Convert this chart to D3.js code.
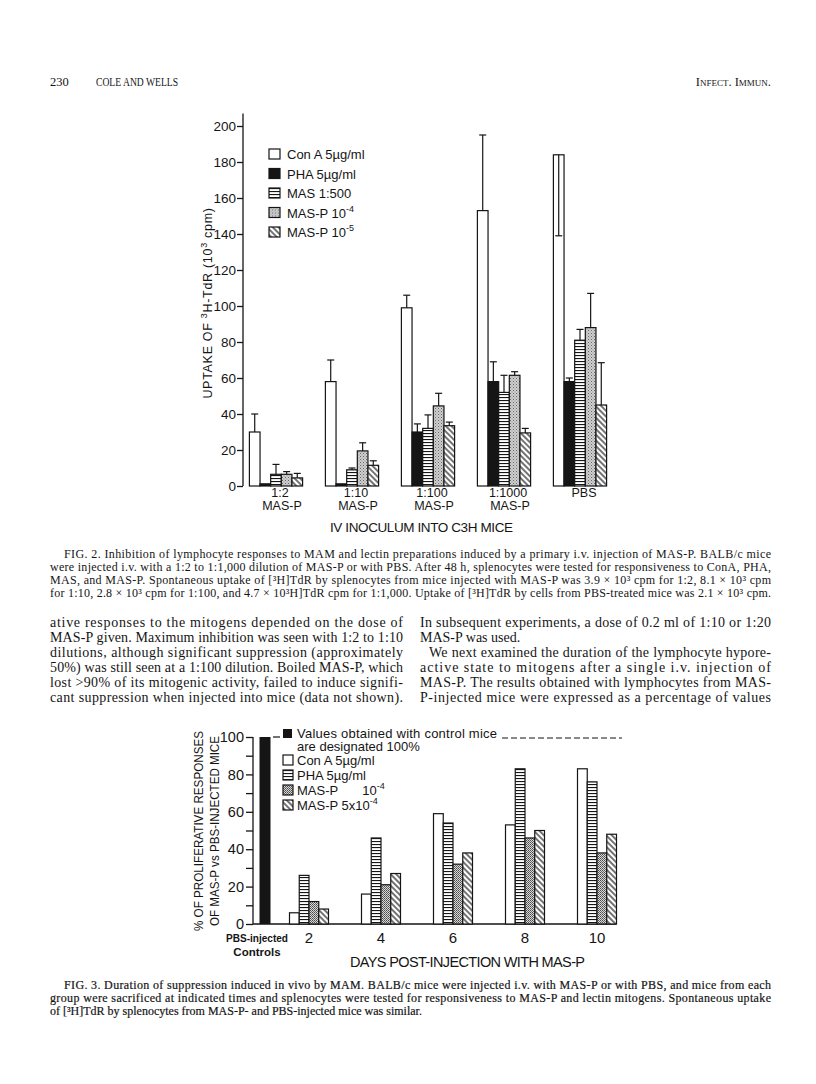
<!DOCTYPE html>
<html>
<head>
<meta charset="utf-8">
<script src="https://cdn.jsdelivr.net/npm/d3@7"></script>
<style>
  body { margin: 0; background: #fff; }
  svg { display: block; }
  .serif { font-family: "Liberation Serif", "DejaVu Serif", serif; fill: #151515; }
  .lab { font-family: "Liberation Sans", Arial, sans-serif; fill: #151515; }
  .narrow { font-family: "Liberation Sans Narrow", "Liberation Sans", Arial, sans-serif; fill: #151515; }
</style>
</head>
<body>
<div id="page"></div>
<script>
/* ---------- Fig. 2 data ---------- */
const fig2Groups = ["1:2", "1:10", "1:100", "1:1000", "PBS"]
const fig2GroupSub = ["MAS-P", "MAS-P", "MAS-P", "MAS-P", ""]
const fig2Series = ["Con A", "PHA", "MAS", "MAS-P 1e-4", "MAS-P 1e-5"]
const fig2LegendText = ["Con A 5µg/ml", "PHA  5µg/ml", "MAS  1:500", "MAS-P  10", "MAS-P  10"]
const fig2LegendSup = ["", "", "", "-4", "-5"]
const fig2ConA = [30, 58, 99, 153, 184]
const fig2ConAErr = [40, 70, 106, 195, 139]
const fig2PHA = [1.2, 1.2, 30, 58, 58]
const fig2PHAErr = [null, null, 34.5, 69, 60]
const fig2MAS = [6.5, 9, 32, 52, 81]
const fig2MASErr = [12, 10, 39.5, 61.5, 87]
const fig2MASP4 = [6.5, 19.5, 44.5, 61.5, 88]
const fig2MASP4Err = [8, 24, 51.5, 63.5, 107]
const fig2MASP5 = [4.5, 11.5, 33.5, 29.5, 45]
const fig2MASP5Err = [7, 14, 35.5, 32, 68.5]
const fig2Ticks = [0, 20, 40, 60, 80, 100, 120, 140, 160, 180, 200]

/* ---------- Fig. 3 data ---------- */
const fig3Days = [2, 4, 6, 8, 10]
const fig3Series = ["Con A", "PHA", "MAS-P 1e-4", "MAS-P 5e-4"]
const fig3LegendText = ["Con A 5µg/ml", "PHA 5µg/ml", "MAS-P", "MAS-P 5x10"]
const fig3LegendSup = ["", "", "-4", "-4"]
const fig3ConA = [6, 16, 59, 53, 83]
const fig3PHA = [26, 46, 54, 83, 76]
const fig3MASP4 = [12, 21, 32, 46, 38]
const fig3MASP5 = [8, 27, 38, 50, 48]
const fig3Control = 100
const fig3Ticks = [0, 10, 20, 30, 40, 50, 60, 70, 80, 90, 100]

/* ---------- page text ---------- */
const fig2Caption = [
  "FIG. 2. Inhibition of lymphocyte responses to MAM and lectin preparations induced by a primary i.v. injection of MAS-P. BALB/c mice",
  "were injected i.v. with a 1:2 to 1:1,000 dilution of MAS-P or with PBS. After 48 h, splenocytes were tested for responsiveness to ConA, PHA,",
  "MAS, and MAS-P. Spontaneous uptake of [³H]TdR by splenocytes from mice injected with MAS-P was 3.9 × 10³ cpm for 1:2, 8.1 × 10³ cpm",
  "for 1:10, 2.8 × 10³ cpm for 1:100, and 4.7 × 10³H]TdR cpm for 1:1,000. Uptake of [³H]TdR by cells from PBS-treated mice was 2.1 × 10³ cpm."
]
const bodyLeft = [
  "ative responses to the mitogens depended on the dose of",
  "MAS-P given. Maximum inhibition was seen with 1:2 to 1:10",
  "dilutions, although significant suppression (approximately",
  "50%) was still seen at a 1:100 dilution. Boiled MAS-P, which",
  "lost >90% of its mitogenic activity, failed to induce signifi-",
  "cant suppression when injected into mice (data not shown)."
]
const bodyRight = [
  "In subsequent experiments, a dose of 0.2 ml of 1:10 or 1:20",
  "MAS-P was used.",
  "We next examined the duration of the lymphocyte hypore-",
  "active state to mitogens after a single i.v. injection of",
  "MAS-P. The results obtained with lymphocytes from MAS-",
  "P-injected mice were expressed as a percentage of values"
]
const fig3Caption = [
  "FIG. 3. Duration of suppression induced in vivo by MAM. BALB/c mice were injected i.v. with MAS-P or with PBS, and mice from each",
  "group were sacrificed at indicated times and splenocytes were tested for responsiveness to MAS-P and lectin mitogens. Spontaneous uptake",
  "of [³H]TdR by splenocytes from MAS-P- and PBS-injected mice was similar."
]

const W = 816, H = 1084
const ink = "#151515"
const svg = d3.select("#page").append("svg").attr("width", W).attr("height", H)
svg.append("rect").attr("width", W).attr("height", H).attr("fill", "#fff")

/* patterns */
const defs = svg.append("defs")
const hs = defs.append("pattern").attr("id", "hstripe").attr("patternUnits", "userSpaceOnUse")
    .attr("width", 4).attr("height", 3)
hs.append("rect").attr("width", 4).attr("height", 3).attr("fill", "#fff")
hs.append("rect").attr("y", 1).attr("width", 4).attr("height", 1.1).attr("fill", ink)
const st = defs.append("pattern").attr("id", "stipple").attr("patternUnits", "userSpaceOnUse")
    .attr("width", 3).attr("height", 3)
st.append("rect").attr("width", 3).attr("height", 3).attr("fill", "#cfcfcf")
st.append("rect").attr("width", 1).attr("height", 1).attr("fill", "#666")
st.append("rect").attr("x", 1.5).attr("y", 1.5).attr("width", 1).attr("height", 1).attr("fill", "#888")
const ck = defs.append("pattern").attr("id", "check").attr("patternUnits", "userSpaceOnUse")
    .attr("width", 2).attr("height", 2)
ck.append("rect").attr("width", 2).attr("height", 2).attr("fill", "#d8d8d8")
ck.append("rect").attr("width", 1).attr("height", 1).attr("fill", "#4a4a4a")
ck.append("rect").attr("x", 1).attr("y", 1).attr("width", 1).attr("height", 1).attr("fill", "#6a6a6a")
const dg = defs.append("pattern").attr("id", "diag").attr("patternUnits", "userSpaceOnUse")
    .attr("width", 4).attr("height", 4).attr("patternTransform", "rotate(45)")
dg.append("rect").attr("width", 4).attr("height", 4).attr("fill", "#fff")
dg.append("line").attr("x1", 0).attr("x2", 4).attr("y1", 2).attr("y2", 2)
    .attr("stroke", ink).attr("stroke-width", 1.2)

/* ---------- header ---------- */
const header = svg.append("g").attr("class", "serif").attr("font-size", 12.5)
header.append("text").attr("x", 50).attr("y", 86).text("230")
header.append("text").attr("x", 96).attr("y", 86).attr("font-size", 11.5)
    .attr("textLength", 82).attr("lengthAdjust", "spacingAndGlyphs").text("COLE AND WELLS")
header.append("text").attr("x", 771).attr("y", 86).attr("text-anchor", "end")
    .style("font-variant", "small-caps").text("Infect. Immun.")

/* text block helper */
function textBlock(lines, o) {
  const ind = i => (o.indent && o.indent[i]) || 0
  return svg.append("g").attr("class", "serif").attr("font-size", o.size)
    .selectAll("text").data(lines).join("text")
      .attr("x", (d, i) => o.x + ind(i))
      .attr("y", (d, i) => o.y + i * o.lh)
      .attr("textLength", (d, i) => o.justify[i] ? o.width - ind(i) : null)
      .attr("lengthAdjust", "spacing")
      .text(d => d)
}

/* ================= FIG. 2 ================= */
const fill2 = d3.scaleOrdinal().domain(fig2Series)
    .range(["#fff", ink, "url(#hstripe)", "url(#stipple)", "url(#diag)"])
const y2 = d3.scaleLinear().domain([0, 200]).range([486, 126])
const x2 = d3.scaleBand().domain(fig2Groups).range([238, 618]).paddingInner(0.3).paddingOuter(0.15)
const xi2 = d3.scaleBand().domain(fig2Series).range([0, x2.bandwidth()])

const fig2Values = [fig2ConA, fig2PHA, fig2MAS, fig2MASP4, fig2MASP5]
const fig2Errors = [fig2ConAErr, fig2PHAErr, fig2MASErr, fig2MASP4Err, fig2MASP5Err]
const fig2Rows = fig2Groups.flatMap((g, gi) => fig2Series.map((s, si) => ({
  g, s, v: fig2Values[si][gi], e: fig2Errors[si][gi]
})))
const cx2 = d => x2(d.g) + xi2(d.s) + xi2.bandwidth() / 2

const f2 = svg.append("g")
const f2x0 = 243
f2.append("line").attr("x1", f2x0).attr("x2", f2x0).attr("y1", y2(0)).attr("y2", y2(207))
    .attr("stroke", ink).attr("stroke-width", 1.3)
const ax2 = f2.append("g").attr("transform", `translate(${f2x0},0)`)
    .call(d3.axisLeft(y2).tickValues(fig2Ticks).tickSize(6).tickSizeOuter(0).tickPadding(1))
ax2.select(".domain").remove()
ax2.selectAll("line").attr("stroke", ink).attr("stroke-width", 1.3)
ax2.selectAll("text").attr("class", "narrow").attr("font-size", 13.5)
    .style("font-family", "'Liberation Sans Narrow', 'Liberation Sans'")

f2.append("g").selectAll("rect").data(fig2Rows).join("rect")
    .attr("x", d => x2(d.g) + xi2(d.s))
    .attr("y", d => y2(d.v))
    .attr("width", xi2.bandwidth())
    .attr("height", d => y2(0) - y2(d.v))
    .attr("fill", d => fill2(d.s))
    .attr("stroke", ink).attr("stroke-width", 1.2)

const errs2 = f2.append("g").attr("stroke", ink).attr("stroke-width", 1.2)
    .selectAll("g").data(fig2Rows.filter(d => d.e != null)).join("g")
errs2.append("line")
    .attr("x1", cx2).attr("x2", cx2)
    .attr("y1", d => y2(d.v)).attr("y2", d => y2(d.e))
errs2.append("line")
    .attr("x1", d => cx2(d) - 3.5).attr("x2", d => cx2(d) + 3.5)
    .attr("y1", d => y2(d.e)).attr("y2", d => y2(d.e))

/* group labels */
const gl2 = f2.append("g").attr("class", "lab").attr("font-size", 12.5).attr("text-anchor", "middle")
gl2.selectAll("text.top").data(fig2Groups).join("text").attr("class", "top")
    .attr("x", d => x2(d) + x2.bandwidth() / 2 + 4).attr("y", 497).text(d => d)
gl2.selectAll("text.sub").data(fig2GroupSub).join("text").attr("class", "sub")
    .attr("x", (d, i) => x2(fig2Groups[i]) + x2.bandwidth() / 2 + 6).attr("y", 510).text(d => d)
f2.append("text").attr("class", "lab").attr("font-size", 13.5).attr("x", 330).attr("y", 532)
    .attr("textLength", 183).attr("lengthAdjust", "spacing").text("IV INOCULUM INTO C3H MICE")

/* y label */
const yl2 = f2.append("text").attr("class", "lab").attr("font-size", 12.5)
    .attr("transform", "translate(212,303) rotate(-90)").attr("text-anchor", "middle")
    .attr("letter-spacing", 0.7)
yl2.append("tspan").text("UPTAKE OF ")
yl2.append("tspan").attr("font-size", 9).attr("dy", -5).text("3")
yl2.append("tspan").attr("dy", 5).text("H-TdR  (10")
yl2.append("tspan").attr("font-size", 9).attr("dy", -5).text("3")
yl2.append("tspan").attr("dy", 5).text(" cpm)")

/* legend */
const lg2 = f2.append("g").selectAll("g").data(fig2Series).join("g")
    .attr("transform", (d, i) => `translate(269,${154 + i * 19.5})`)
lg2.append("rect").attr("x", 0).attr("y", -5).attr("width", 11).attr("height", 10)
    .attr("fill", d => fill2(d)).attr("stroke", ink).attr("stroke-width", 1.2)
const lt2 = lg2.append("text").attr("class", "lab").attr("font-size", 13).attr("x", 18).attr("y", 5)
lt2.append("tspan").text((d, i) => fig2LegendText[i])
lt2.append("tspan").attr("font-size", 9).attr("dy", -6).text((d, i) => fig2LegendSup[i])

/* ---------- Fig. 2 caption and body text ---------- */
textBlock(fig2Caption, { x: 50, y: 558, lh: 13, size: 12, width: 721, indent: [14, 0, 0, 0], justify: [1, 1, 1, 1] })
textBlock(bodyLeft, { x: 50, y: 627, lh: 15, size: 14, width: 353, justify: [1, 1, 1, 1, 1, 1] })
textBlock(bodyRight, { x: 420, y: 627, lh: 15, size: 14, width: 351, indent: [0, 0, 9, 0, 0, 0], justify: [1, 0, 1, 1, 1, 1] })

/* ================= FIG. 3 ================= */
const fill3 = d3.scaleOrdinal().domain(fig3Series)
    .range(["#fff", "url(#hstripe)", "url(#check)", "url(#diag)"])
const y3 = d3.scaleLinear().domain([0, 100]).range([924, 737])
// day 0 stands for the PBS-injected controls
const x3 = d3.scaleLinear().domain([0, 2, 10]).range([265, 309, 597])
const xi3 = d3.scaleBand().domain(fig3Series).range([-19.5, 19.5])

const fig3Values = [fig3ConA, fig3PHA, fig3MASP4, fig3MASP5]
const fig3Rows = fig3Days.flatMap((day, di) => fig3Series.map((s, si) => ({ day, s, v: fig3Values[si][di] })))

const f3 = svg.append("g")
const f3x0 = 253
f3.append("line").attr("x1", f3x0).attr("x2", f3x0).attr("y1", y3(0)).attr("y2", y3(100))
    .attr("stroke", ink).attr("stroke-width", 1.3)
f3.append("line").attr("x1", f3x0).attr("x2", x3(10) + 19.5).attr("y1", y3(0)).attr("y2", y3(0))
    .attr("stroke", ink).attr("stroke-width", 1.3)
const ax3 = f3.append("g").attr("transform", `translate(${f3x0},0)`)
    .call(d3.axisLeft(y3).tickValues(fig3Ticks).tickFormat(d => d % 20 ? "" : d)
      .tickSize(7).tickSizeOuter(0).tickPadding(2))
ax3.select(".domain").remove()
ax3.selectAll("line").attr("stroke", ink).attr("stroke-width", 1.3)
ax3.selectAll("text").attr("font-size", 14.5)
    .style("font-family", "'Liberation Sans Narrow', 'Liberation Sans'").attr("fill", ink)

// control bar
f3.append("rect").attr("x", x3(0) - 5.5).attr("y", y3(fig3Control))
    .attr("width", 11).attr("height", y3(0) - y3(fig3Control)).attr("fill", ink)

f3.append("g").selectAll("rect").data(fig3Rows).join("rect")
    .attr("x", d => x3(d.day) + xi3(d.s))
    .attr("y", d => y3(d.v))
    .attr("width", xi3.bandwidth())
    .attr("height", d => y3(0) - y3(d.v))
    .attr("fill", d => fill3(d.s))
    .attr("stroke", ink).attr("stroke-width", 1.2)

/* x labels */
const xl3 = f3.append("g").attr("class", "lab").attr("text-anchor", "middle")
xl3.selectAll("text").data(fig3Days).join("text").attr("font-size", 15)
    .attr("x", d => x3(d)).attr("y", 943).text(d => d)
xl3.append("text").attr("font-size", 11.5).attr("font-weight", "bold").attr("x", x3(0) - 8).attr("y", 942)
    .attr("textLength", 62).attr("lengthAdjust", "spacingAndGlyphs").text("PBS-injected")
xl3.append("text").attr("font-size", 11.5).attr("font-weight", "bold").attr("x", x3(0) - 8).attr("y", 956)
    .text("Controls")
f3.append("text").attr("class", "lab").attr("font-size", 14.5).attr("x", 350).attr("y", 967)
    .attr("textLength", 235).attr("lengthAdjust", "spacing").text("DAYS POST-INJECTION WITH MAS-P")

/* y label, two lines */
f3.append("text").attr("class", "narrow").attr("font-size", 13.5)
    .attr("transform", "translate(203,831) rotate(-90)").attr("text-anchor", "middle")
    .attr("textLength", 200).attr("lengthAdjust", "spacingAndGlyphs").text("% OF PROLIFERATIVE RESPONSES")
f3.append("text").attr("class", "narrow").attr("font-size", 13.5)
    .attr("transform", "translate(219,831) rotate(-90)").attr("text-anchor", "middle")
    .attr("textLength", 190).attr("lengthAdjust", "spacingAndGlyphs").text("OF MAS-P vs PBS-INJECTED MICE")

/* legend */
const lg3 = f3.append("g").attr("class", "lab").attr("font-size", 13)
lg3.append("rect").attr("x", 283).attr("y", 729).attr("width", 9).attr("height", 9).attr("fill", ink)
lg3.append("text").attr("x", 297).attr("y", 738).attr("textLength", 200).attr("lengthAdjust", "spacing")
    .text("Values obtained with control mice")
lg3.append("text").attr("x", 297).attr("y", 751).text("are designated 100%")
f3.append("line").attr("x1", x3(0) + 8).attr("x2", 280).attr("y1", y3(fig3Control)).attr("y2", y3(fig3Control))
    .attr("stroke", ink).attr("stroke-width", 1.2)
f3.append("line").attr("x1", 502).attr("x2", 622).attr("y1", y3(fig3Control) + 1).attr("y2", y3(fig3Control) + 1)
    .attr("stroke", ink).attr("stroke-width", 1.2).attr("stroke-dasharray", "6,3")
const lr3 = lg3.selectAll("g").data(fig3Series).join("g")
    .attr("transform", (d, i) => `translate(283,${760 + i * 15})`)
lr3.append("rect").attr("x", 0).attr("y", -5).attr("width", 10).attr("height", 10)
    .attr("fill", d => fill3(d)).attr("stroke", ink).attr("stroke-width", 1.2)
const lt3 = lr3.append("text").attr("x", 14).attr("y", 5)
lt3.append("tspan").text((d, i) => fig3LegendText[i])
lt3.append("tspan").attr("dx", 24).text((d, i) => i === 2 ? "10" : "")
lt3.append("tspan").attr("font-size", 9).attr("dy", -6).text((d, i) => fig3LegendSup[i])

/* ---------- Fig. 3 caption ---------- */
textBlock(fig3Caption, { x: 50, y: 989, lh: 13, size: 12, width: 721, indent: [14, 0, 0], justify: [1, 1, 0] })
  .attr("stroke", "#151515").attr("stroke-width", 0.2)
</script>
</body>
</html>
